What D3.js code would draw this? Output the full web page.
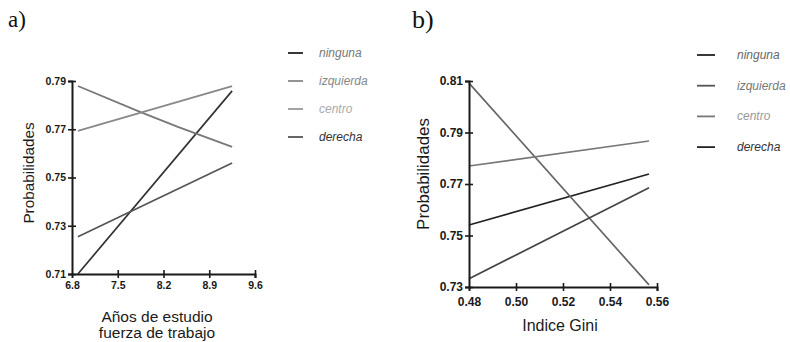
<!DOCTYPE html>
<html>
<head>
<meta charset="utf-8">
<script src="https://cdn.jsdelivr.net/npm/d3@7"></script>
<style>
  body { margin: 0; background: #fff; }
  svg { display: block; font-family: "Liberation Sans", Arial, sans-serif; }
</style>
</head>
<body>
<svg id="chart" width="790" height="342"></svg>
<script>
const seriesNames = ["ninguna", "izquierda", "centro", "derecha"];

// panel a) Años de estudio fuerza de trabajo
const xTicksA = [6.8, 7.5, 8.2, 8.9, 9.6];
const yTicksA = [0.71, 0.73, 0.75, 0.77, 0.79];
const ningunaA = [[6.89, 0.71], [9.25, 0.7859]];
const izquierdaA = [[6.89, 0.7879], [7.84, 0.7772], [8.42, 0.771], [9.25, 0.7627]];
const centroA = [[6.89, 0.7693], [9.25, 0.7879]];
const derechaA = [[6.89, 0.7254], [9.25, 0.756]];

// panel b) Indice Gini
const xTicksB = [0.48, 0.5, 0.52, 0.54, 0.56];
const yTicksB = [0.73, 0.75, 0.77, 0.79, 0.81];
const ningunaB = [[0.48, 0.7541], [0.5566, 0.7739]];
const izquierdaB = [[0.48, 0.8092], [0.5566, 0.7308]];
const centroB = [[0.48, 0.777], [0.5566, 0.7867]];
const derechaB = [[0.48, 0.7332], [0.5566, 0.7685]];

const svg = d3.select("#chart");

const buildPanel = (cfg) => {
  const xScale = d3.scaleLinear().domain(cfg.xDomain).range(cfg.xRange);
  const yScale = d3.scaleLinear().domain(cfg.yDomain).range(cfg.yRange);

  const g = svg.append("g");

  g.append("text")
    .text(cfg.label)
    .attr("x", cfg.labelPos[0])
    .attr("y", cfg.labelPos[1])
    .style("font-family", "'Liberation Serif', serif")
    .style("font-size", cfg.labelSize + "px")
    .style("fill", "#111");

  const line = d3
    .line()
    .x((d) => xScale(d[0]))
    .y((d) => yScale(d[1]));

  g.selectAll(".series")
    .data(cfg.series)
    .enter()
    .append("path")
    .attr("d", (d) => line(d.values))
    .attr("fill", "none")
    .attr("stroke", (d) => d.color)
    .attr("stroke-width", 1.7);

  const yAxis = g
    .append("g")
    .attr("transform", `translate(${cfg.xRange[0]},0)`)
    .call(d3.axisLeft(yScale).tickValues(cfg.yTicks).tickFormat(d3.format(".2f")).tickSizeOuter(0).tickSize(4).tickPadding(cfg.yPad));

  const xAxis = g
    .append("g")
    .attr("transform", `translate(0,${cfg.yRange[0]})`)
    .call(d3.axisBottom(xScale).tickValues(cfg.xTicks).tickFormat(d3.format(cfg.xFormat)).tickSizeOuter(0).tickSize(4).tickPadding(cfg.xPad));

  [yAxis, xAxis].forEach((ax) => {
    ax.select(".domain").attr("stroke", "#1a1a1a").attr("stroke-width", 2);
    ax.selectAll(".tick text")
      .style("font-size", cfg.tickSize + "px")
      .style("font-weight", "bold")
      .style("fill", "#1a1a1a")
      .style("font-family", "'Liberation Sans', Arial, sans-serif");
  });
  yAxis.selectAll(".tick line").attr("x1", -4).attr("x2", 4).attr("stroke", "#1a1a1a").attr("stroke-width", 1.6);
  xAxis.selectAll(".tick line").attr("y1", -4).attr("y2", 4).attr("stroke", "#1a1a1a").attr("stroke-width", 1.6);
  xAxis.selectAll(".tick").filter((d) => d === cfg.xTicks[0]).select("line").remove();

  // axis titles
  g.append("text")
    .text("Probabilidades")
    .attr("transform", `translate(${cfg.yTitlePos[0]},${cfg.yTitlePos[1]}) rotate(-90)`)
    .attr("text-anchor", "middle")
    .style("font-size", cfg.yTitleSize + "px")
    .style("fill", "#1a1a1a");

  g.selectAll(".xtitle")
    .data(cfg.xTitle)
    .enter()
    .append("text")
    .text((d) => d)
    .attr("x", cfg.xTitlePos[0])
    .attr("y", (d, i) => cfg.xTitlePos[1] + i * 16)
    .attr("text-anchor", "middle")
    .style("font-size", cfg.xTitleSize + "px")
    .style("fill", "#1a1a1a");

  // legend
  const legend = g
    .selectAll(".legend")
    .data(cfg.series)
    .enter()
    .append("g")
    .attr("transform", (d, i) => `translate(${cfg.legendPos[0]},${cfg.legendPos[1] + i * cfg.legendStep})`);

  legend
    .append("line")
    .attr("x1", 0)
    .attr("x2", cfg.legendLine)
    .attr("stroke", (d) => d.keyColor)
    .attr("stroke-width", 1.8);

  legend
    .append("text")
    .text((d) => d.name)
    .attr("x", cfg.legendText)
    .attr("y", 4)
    .style("font-size", "12px")
    .style("font-style", "italic")
    .style("fill", (d) => d.textColor);
};

buildPanel({
  label: "a)",
  labelPos: [8, 27],
  labelSize: 23,
  xDomain: [6.8, 9.6],
  xRange: [72, 255],
  yDomain: [0.71, 0.79],
  yRange: [274, 81],
  xTicks: xTicksA,
  yTicks: yTicksA,
  xFormat: ".1f",
  tickSize: 10.5,
  xPad: 4,
  yPad: 2,
  yTitlePos: [34, 173],
  yTitleSize: 15.3,
  xTitle: ["Años de estudio", "fuerza de trabajo"],
  xTitlePos: [157, 322],
  xTitleSize: 15.5,
  legendPos: [288, 53],
  legendStep: 28,
  legendLine: 15,
  legendText: 31,
  series: [
    { name: seriesNames[0], values: ningunaA, color: "#333", keyColor: "#222", textColor: "#777" },
    { name: seriesNames[1], values: izquierdaA, color: "#777", keyColor: "#888", textColor: "#888" },
    { name: seriesNames[2], values: centroA, color: "#888", keyColor: "#999", textColor: "#aaa" },
    { name: seriesNames[3], values: derechaA, color: "#555", keyColor: "#555", textColor: "#333" },
  ],
});

buildPanel({
  label: "b)",
  labelPos: [412, 28],
  labelSize: 26,
  xDomain: [0.48, 0.56],
  xRange: [469, 657],
  yDomain: [0.73, 0.81],
  yRange: [287, 81],
  xTicks: xTicksB,
  yTicks: yTicksB,
  xFormat: ".2f",
  tickSize: 12,
  xPad: 6,
  yPad: 2,
  yTitlePos: [429, 174],
  yTitleSize: 16.9,
  xTitle: ["Indice Gini"],
  xTitlePos: [560, 331],
  xTitleSize: 16,
  legendPos: [697, 55],
  legendStep: 30.7,
  legendLine: 18,
  legendText: 40,
  series: [
    { name: seriesNames[0], values: ningunaB, color: "#222", keyColor: "#222", textColor: "#666" },
    { name: seriesNames[1], values: izquierdaB, color: "#666", keyColor: "#555", textColor: "#777" },
    { name: seriesNames[2], values: centroB, color: "#777", keyColor: "#777", textColor: "#999" },
    { name: seriesNames[3], values: derechaB, color: "#444", keyColor: "#222", textColor: "#333" },
  ],
});
</script>
</body>
</html>
